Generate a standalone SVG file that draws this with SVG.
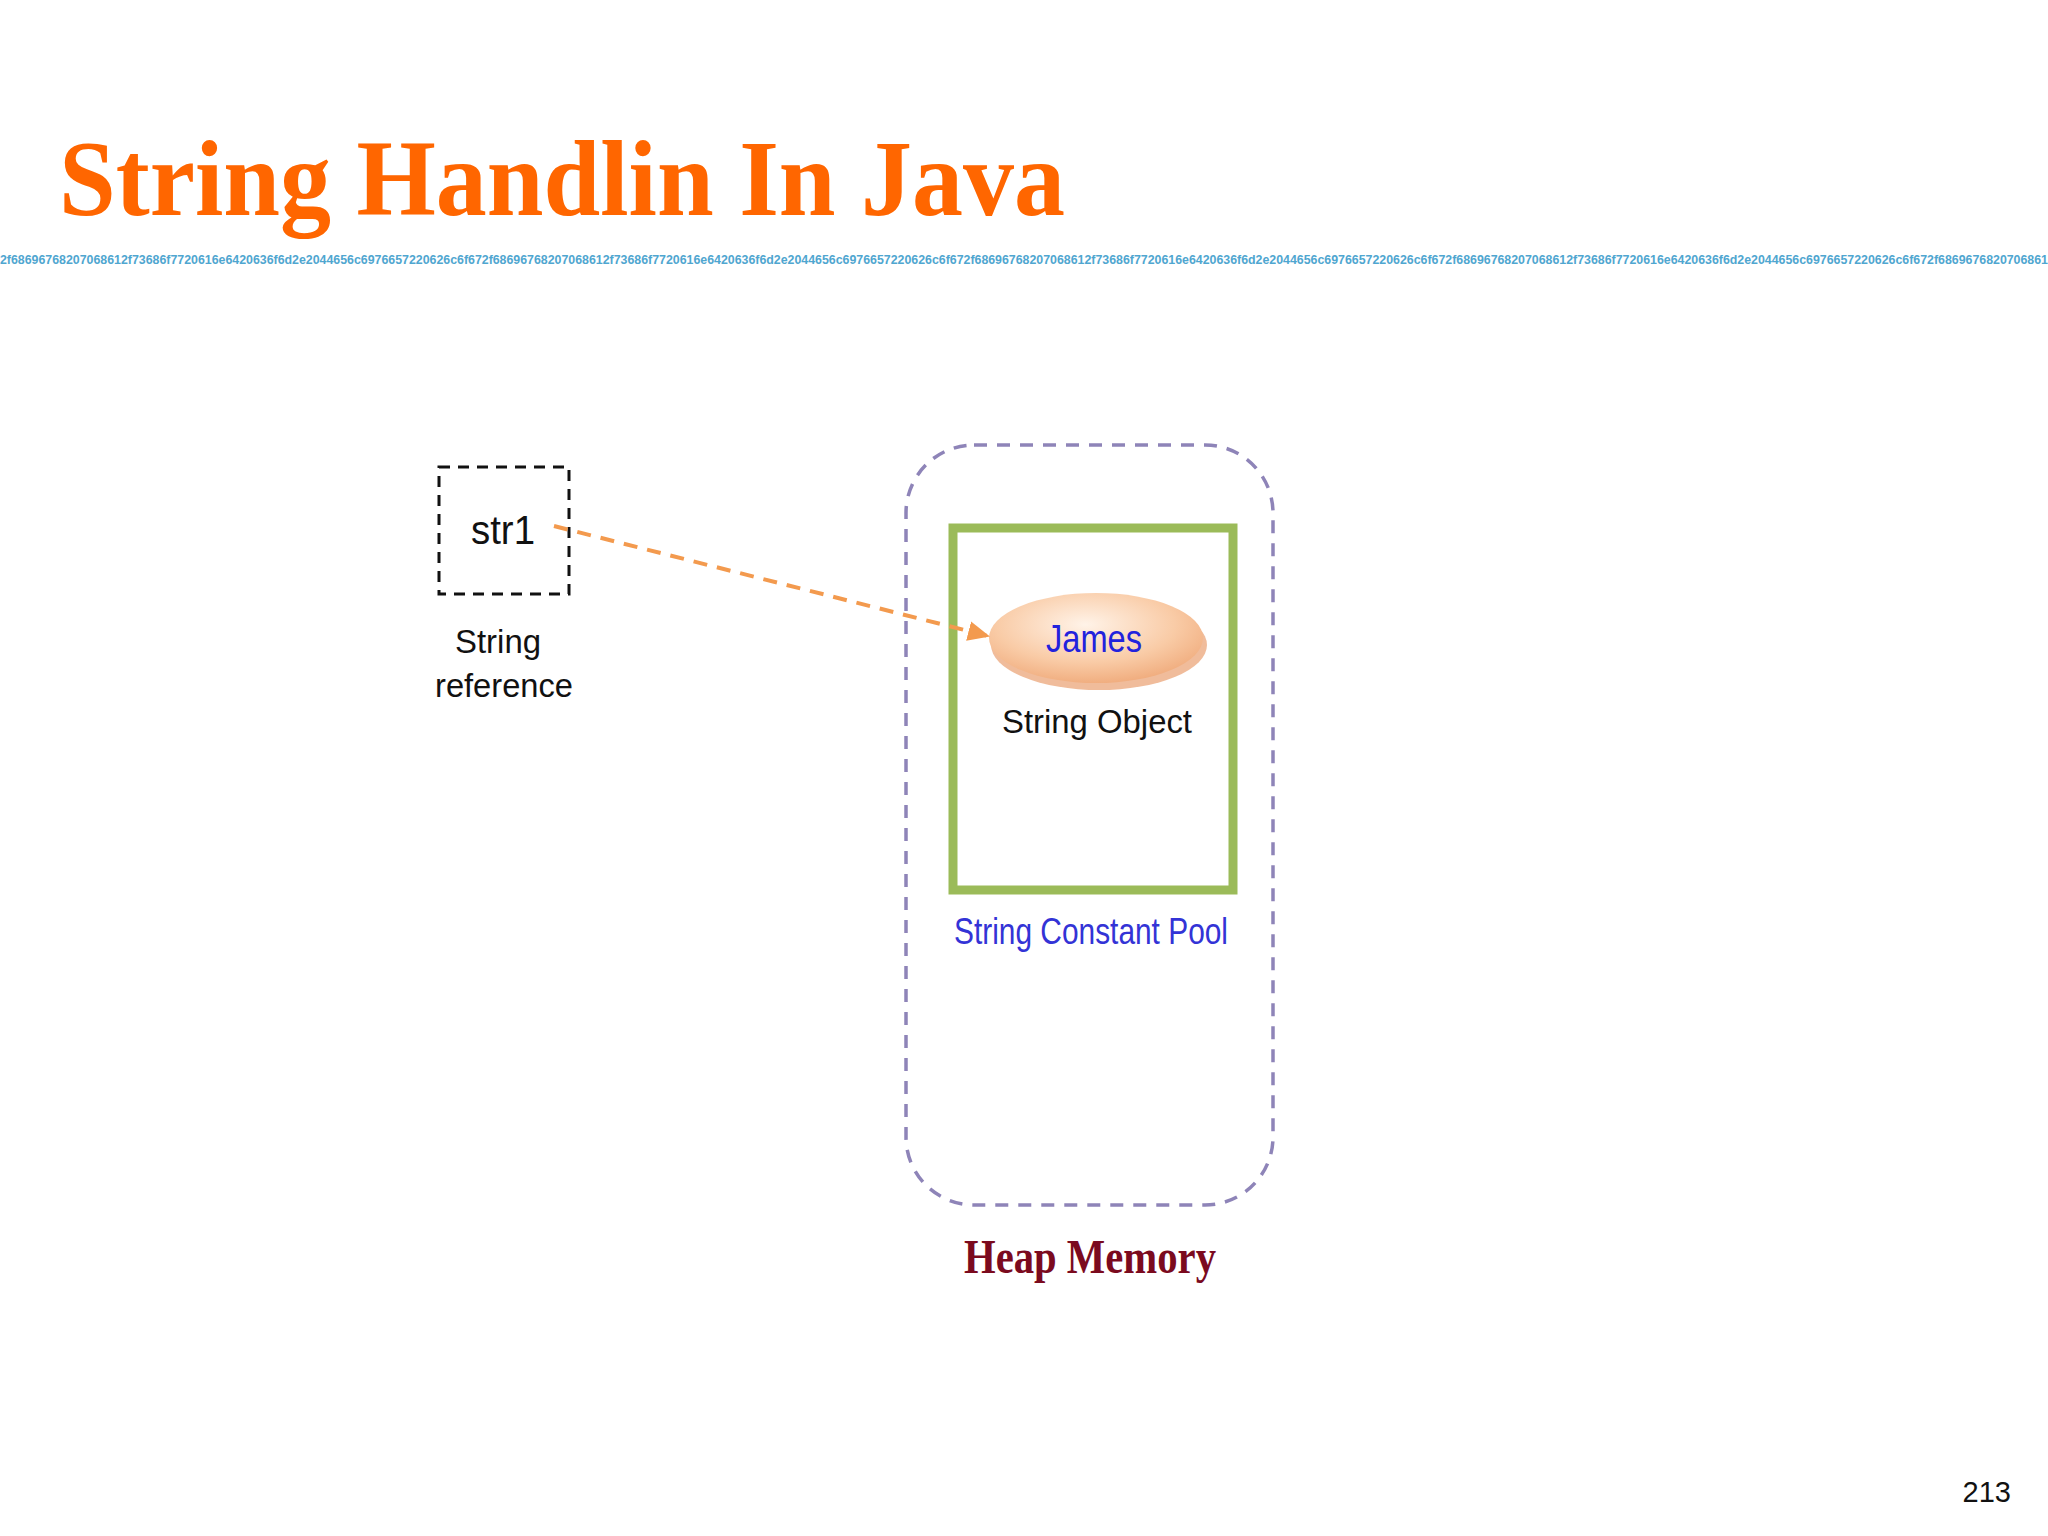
<svg xmlns="http://www.w3.org/2000/svg" width="2048" height="1536" viewBox="0 0 2048 1536">
<style>
.sans{font-family:"Liberation Sans","DejaVu Sans",sans-serif}
.serif{font-family:"Liberation Serif","Times New Roman",serif;font-weight:bold}
.lbl{font-size:34px;fill:#111;text-anchor:middle}
</style>
<defs>
<marker id="arr" markerWidth="22" markerHeight="22" refX="20" refY="11" orient="auto" markerUnits="userSpaceOnUse" viewBox="0 0 22 22">
<path d="M0,1 L22,11 L0,21 z" fill="#F39A4E"/>
</marker>
<radialGradient id="peach" cx="0.45" cy="0.35" r="0.7">
<stop offset="0" stop-color="#FFF3E8"/>
<stop offset="0.6" stop-color="#F9CBA6"/>
<stop offset="1" stop-color="#EFA878"/>
</radialGradient>
</defs>
<rect width="2048" height="1536" fill="#fff"/>
<g id="title">
<text class="serif" x="59" y="215" font-size="108" fill="#FF6600" textLength="1006" lengthAdjust="spacingAndGlyphs">String Handlin In Java</text>
</g>
<g id="hexstrip">
<text class="sans" x="0" y="264" font-size="12" font-weight="bold" fill="#4FA6D0" textLength="2048" lengthAdjust="spacingAndGlyphs">2f68696768207068612f73686f7720616e6420636f6d2e2044656c6976657220626c6f672f68696768207068612f73686f7720616e6420636f6d2e2044656c6976657220626c6f672f68696768207068612f73686f7720616e6420636f6d2e2044656c6976657220626c6f672f68696768207068612f73686f7720616e6420636f6d2e2044656c6976657220626c6f672f6869676820706861</text>
</g>
<g id="heap">
<rect x="906" y="445" width="367" height="760" rx="68" ry="68" fill="none" stroke="#8E84B8" stroke-width="3.5" stroke-dasharray="13,10"/>
<text class="serif" x="1090" y="1273" font-size="48" fill="#7B0A1E" text-anchor="middle" textLength="252" lengthAdjust="spacingAndGlyphs">Heap Memory</text>
</g>
<g id="pool">
<rect x="953" y="528" width="280" height="362" fill="none" stroke="#9BBB59" stroke-width="9"/>
<text class="sans" x="1091" y="944" font-size="36" fill="#3333D6" text-anchor="middle" textLength="274" lengthAdjust="spacingAndGlyphs">String Constant Pool</text>
</g>
<g id="str1">
<rect x="439" y="467" width="130" height="127" fill="none" stroke="#111" stroke-width="3" stroke-dasharray="11,8"/>
<text class="sans" x="503" y="544" font-size="40" fill="#111" text-anchor="middle" textLength="64" lengthAdjust="spacingAndGlyphs">str1</text>
<text class="sans lbl" x="498" y="653" textLength="86" lengthAdjust="spacingAndGlyphs">String</text>
<text class="sans lbl" x="504" y="697" textLength="138" lengthAdjust="spacingAndGlyphs">reference</text>
</g>
<g id="james">
<ellipse cx="1099" cy="645" rx="108" ry="45" fill="#E9A070" opacity="0.7"/>
<ellipse cx="1096" cy="638" rx="107" ry="45" fill="url(#peach)"/>
<text class="sans" x="1094" y="652" font-size="38" fill="#2222DD" text-anchor="middle" textLength="96" lengthAdjust="spacingAndGlyphs">James</text>
<text class="sans lbl" x="1097" y="733" textLength="190" lengthAdjust="spacingAndGlyphs">String Object</text>
</g>
<g id="connectors">
<line x1="554" y1="526" x2="988" y2="636" stroke="#F39A4E" stroke-width="4" stroke-dasharray="14,10" marker-end="url(#arr)"/>
</g>
<g id="pagenum">
<text class="sans" x="2011" y="1502" font-size="29" fill="#111" text-anchor="end">213</text>
</g>
</svg>
